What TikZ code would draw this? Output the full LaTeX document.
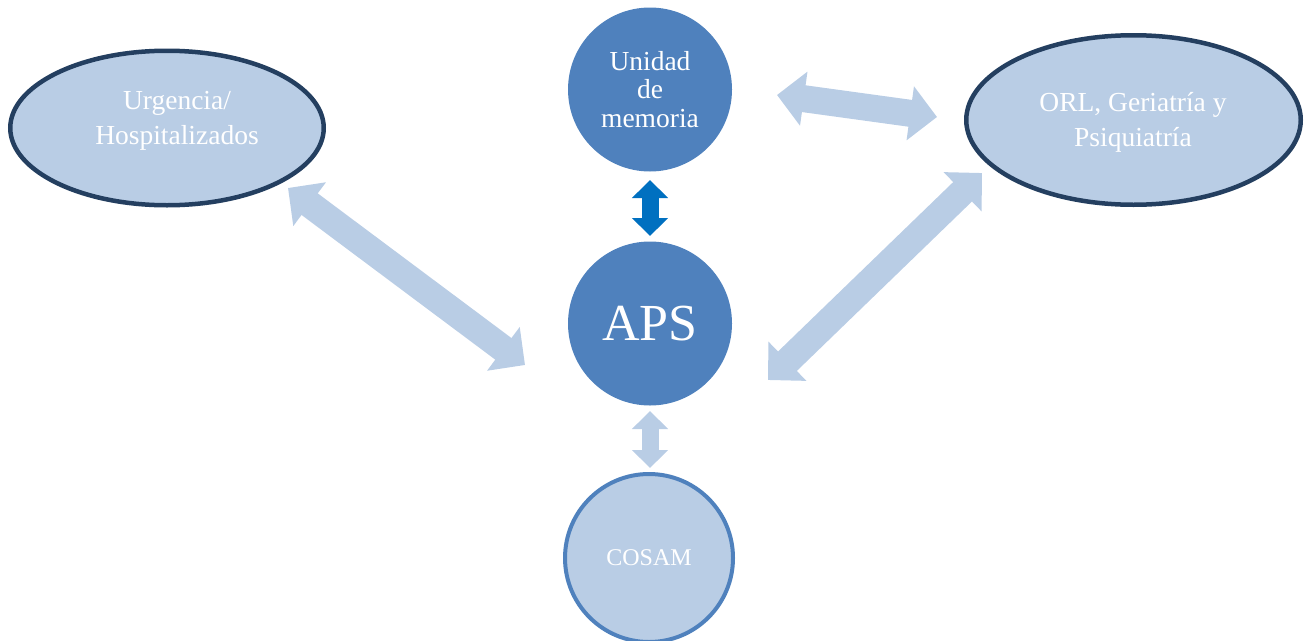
\documentclass[tikz,border=0pt]{standalone}
\usepackage{fontspec}
\setmainfont{Liberation Serif}
\usetikzlibrary{shapes.geometric,arrows.meta}

\definecolor{darkfill}{HTML}{4F81BD}
\definecolor{lightfill}{HTML}{B9CDE5}
\definecolor{navyline}{HTML}{243F60}
\definecolor{brightblue}{HTML}{0070C0}

\begin{document}
\begin{tikzpicture}[x=1pt,y=-1pt,
  oval/.style={ellipse, draw=navyline, line width=4.5pt, fill=lightfill, inner sep=0pt},
  darkdisc/.style={circle, fill=darkfill, inner sep=0pt, minimum size=164pt, text=white, align=center},
  lightdisc/.style={circle, draw=darkfill, line width=4pt, fill=lightfill, inner sep=0pt, minimum size=168pt, text=white},
  ovaltext/.style={text=white, align=center, inner sep=0pt, font=\fontsize{27.5}{35}\selectfont},
  wide link/.style={draw=lightfill, line width=27pt,
    {Triangle[length=27pt,width=53pt]}-{Triangle[length=27pt,width=53pt]}},
  narrow link/.style={line width=17pt,
    {Triangle[length=18pt,width=35pt]}-{Triangle[length=18pt,width=35pt]}},
]
\useasboundingbox (0,0) rectangle (1311,640);

% services
\node[oval, minimum width=313.5pt, minimum height=154.5pt] (urg) at (167,128) {};
\node[ovaltext] (urgtext) at (177,121) {Urgencia/\\Hospitalizados};

\node[oval, minimum width=334.5pt, minimum height=169.5pt] (orl) at (1133.5,120) {};
\node[ovaltext] (orltext) at (1133,122) {ORL, Geriatría y\\Psiquiatría};

\node[darkdisc, font=\fontsize{27.5}{28.5}\selectfont] (memo) at (650,89.5) {Unidad\\de\\memoria};
\node[darkdisc, font=\fontsize{52}{60}\selectfont] (aps) at (650,323.5) {APS};
\node[lightdisc, font=\fontsize{24}{30}\selectfont] (cosam) at (649,558) {COSAM};

% arrow end points
\coordinate (memoS) at (650,180);
\coordinate (apsN) at (650,236);
\coordinate (apsS) at (650,411);
\coordinate (cosamN) at (650,468);
\coordinate (memoE) at (777,95);
\coordinate (orlW) at (937,117);
\coordinate (urgSE) at (288,188);
\coordinate (apsW) at (525,365);
\coordinate (apsE) at (768,380);
\coordinate (orlSW) at (982,173);

% links
\draw[narrow link, draw=brightblue] (memoS) -- (apsN);
\draw[narrow link, draw=lightfill] (apsS) -- (cosamN);
\draw[wide link] (memoE) -- (orlW);
\draw[wide link] (urgSE) -- (apsW);
\draw[wide link] (apsE) -- (orlSW);
\end{tikzpicture}
\end{document}
